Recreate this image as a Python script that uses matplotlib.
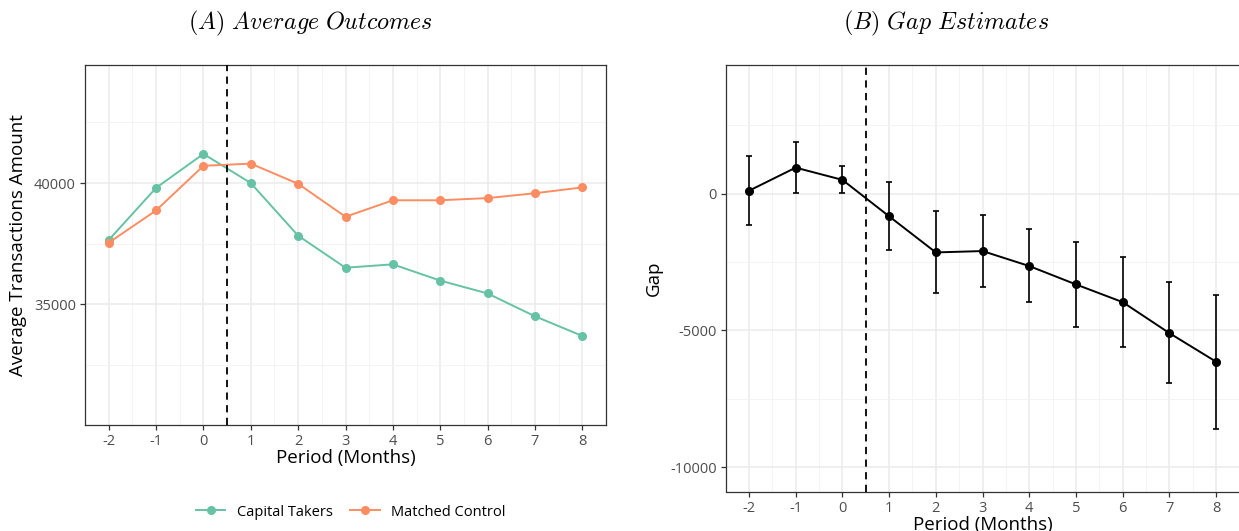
import numpy as np
import matplotlib
matplotlib.use("Agg")
import matplotlib.pyplot as plt
from matplotlib.ticker import FixedLocator

plt.rcParams['font.family'] = ['Open Sans', 'DejaVu Sans']
plt.rcParams['mathtext.fontset'] = 'cm'
plt.rcParams['axes.unicode_minus'] = False

# data
periods = [-2, -1, 0, 1, 2, 3, 4, 5, 6, 7, 8]
capital_takers = [37650, 39800, 41200, 40000, 37830, 36510, 36650, 35980, 35450, 34510, 33700]
matched_control = [37540, 38870, 40710, 40800, 39970, 38610, 39290, 39290, 39380, 39580, 39820]

gap = [100, 945, 498, -833, -2152, -2102, -2650, -3321, -3968, -5100, -6145]
gap_upper = [1381, 1878, 995, 423, -647, -784, -1294, -1754, -2326, -3247, -3707]
gap_lower = [-1144, 25, 25, -2053, -3645, -3409, -3981, -4876, -5598, -6929, -8584]

ct_color = '#66C2A5'
mc_color = '#FC8D62'
tick_col = '#4D4D4D'
grid_col = '#EBEBEB'
W, H = 1239, 531


def style_axes(ax):
    for s in ax.spines.values():
        s.set_color('#333333')
        s.set_linewidth(0.9)
    ax.set_xlim(-2.5, 8.5)
    ax.xaxis.set_major_locator(FixedLocator(periods))
    ax.xaxis.set_minor_locator(FixedLocator(np.arange(-1.5, 8, 1.0)))
    ax.grid(which='major', color=grid_col, linewidth=1.1, zorder=0)
    ax.grid(which='minor', color='#F2F2F2', linewidth=0.6, zorder=0)
    ax.set_axisbelow(True)
    ax.tick_params(which='major', length=3.5, width=0.9, color='#333333',
                   labelcolor=tick_col, labelsize=10.5, pad=3)
    ax.tick_params(which='minor', length=0)


fig = plt.figure(figsize=(W / 100, H / 100), dpi=100)

# panel A
ax1 = fig.add_axes([85 / W, 1 - 425 / H, (606 - 85) / W, (425 - 64.6) / H])
style_axes(ax1)
ax1.set_ylim(30030, 44880)
ax1.yaxis.set_major_locator(FixedLocator([35000, 40000]))
ax1.yaxis.set_minor_locator(FixedLocator([32500, 37500, 42500]))
ax1.plot(periods, capital_takers, '-o', color=ct_color, lw=1.4, ms=5.5, label='Capital Takers', zorder=3)
ax1.plot(periods, matched_control, '-o', color=mc_color, lw=1.4, ms=5.5, label='Matched Control', zorder=3)
ax1.axvline(0.5, color='black', ls=(0, (4, 3)), lw=1.3, zorder=4)
ax1.set_xlabel('Period (Months)', fontsize=13.5, labelpad=0)
ax1.set_ylabel('Average Transactions Amount', fontsize=13.5, labelpad=5)

# panel B
ax2 = fig.add_axes([725.6 / W, 1 - 491.5 / H, (1239.5 - 725.6) / W, (491.5 - 64.6) / H])
style_axes(ax2)
ax2.spines['right'].set_visible(False)
ax2.set_ylim(-10884, 4708)
ax2.yaxis.set_major_locator(FixedLocator([-10000, -5000, 0]))
ax2.yaxis.set_minor_locator(FixedLocator([-7500, -2500, 2500]))
yerr = [np.array(gap) - np.array(gap_lower), np.array(gap_upper) - np.array(gap)]
ax2.errorbar(periods, gap, yerr=yerr, fmt='-o', color='black', lw=1.4, ms=5.5,
             elinewidth=1.2, capsize=2.5, capthick=1.2, zorder=3)
ax2.axvline(0.5, color='black', ls=(0, (4, 3)), lw=1.3, zorder=4)
ax2.set_xlabel('Period (Months)', fontsize=13.5, labelpad=0)
ax2.set_ylabel('Gap', fontsize=13.5, labelpad=5)

fig.text(310 / W, 1 - 23 / H, r'$(A)\ Average\ Outcomes$', ha='center', va='center', fontsize=17.3)
fig.text(946 / W, 1 - 23 / H, r'$(B)\ Gap\ Estimates$', ha='center', va='center', fontsize=17.3)

fig.legend(*ax1.get_legend_handles_labels(), loc='center', ncol=2, frameon=False,
           bbox_to_anchor=(351 / W, 1 - 512 / H), fontsize=10.5, handlelength=2.0,
           columnspacing=1.2, handletextpad=0.8)

fig.savefig('out.png', dpi=100)
